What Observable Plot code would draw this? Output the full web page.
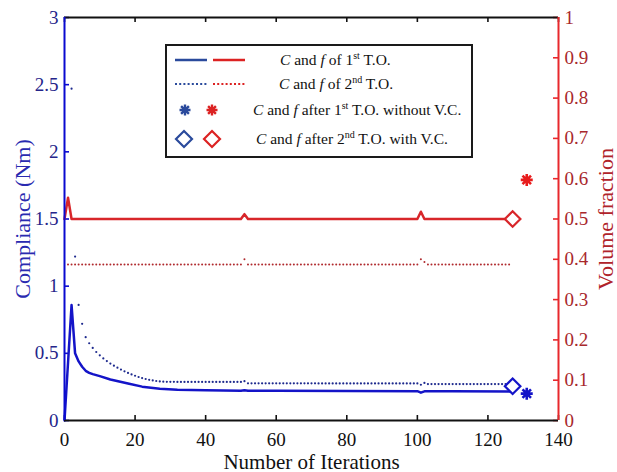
<!DOCTYPE html>
<html>
<head>
<meta charset="utf-8">
<script src="https://cdn.jsdelivr.net/npm/d3@7"></script>
<script src="https://cdn.jsdelivr.net/npm/@observablehq/plot@0.6"></script>
<style>
  html, body { margin: 0; padding: 0; background: #fff; }
  #wrap { position: relative; width: 617px; height: 472px; font-family: 'Liberation Serif', 'Times New Roman', serif; }
  #wrap svg text { font-family: 'Liberation Serif', 'Times New Roman', serif; }
  .legend { position: absolute; left: 165px; top: 44px; width: 304px; height: 110px; border: 2px solid #1a1a1a; background: #fff; }
  .lt { position: absolute; font-size: 15.5px; color: #111; white-space: nowrap; transform: translateY(-50%); line-height: 1; font-family: 'Liberation Serif', 'Times New Roman', serif; }
  .lt sup { font-size: 10px; vertical-align: 6px; line-height: 0; }
</style>
</head>
<body>
<div id="wrap"></div>
<script>
// ---- axes ----
const xDomain = [0, 140];
const xTicks = [0, 20, 40, 60, 80, 100, 120, 140];
const cDomain = [0, 3];
const cTicks = [0, 0.5, 1, 1.5, 2, 2.5, 3];
const fTicks = [0, 0.1, 0.2, 0.3, 0.4, 0.5, 0.6, 0.7, 0.8, 0.9, 1];
const fToC = 3; // right axis (0..1) shares the left axis (0..3)

// ---- compliance of 1st T.O. (solid blue) ----
const c1Iter = [0, 1, 2, 3, 4, 5, 6, 7, 8, 10, 13, 18, 22, 27, 32, 40, 50, 51, 52, 60, 80, 100, 101, 102, 110, 127];
const c1Val  = [0, 0.43, 0.86, 0.5, 0.44, 0.4, 0.37, 0.355, 0.345, 0.33, 0.305, 0.275, 0.252, 0.237, 0.229, 0.225, 0.222, 0.226, 0.222, 0.221, 0.219, 0.218, 0.207, 0.217, 0.217, 0.216];

// ---- volume fraction of 1st T.O. (solid red) ----
const f1Iter = [0, 1, 2, 50, 51, 52, 100, 101, 102, 127];
const f1Val  = [0.5, 0.553, 0.5, 0.5, 0.512, 0.5, 0.5, 0.518, 0.5, 0.5];

// ---- compliance of 2nd T.O. (blue dots, one per iteration, from iteration 2) ----
const c2Start = 2;
const c2Val = [
  2.47, 1.22, 0.86, 0.72, 0.62, 0.575, 0.54, 0.51, 0.485, 0.462,
  0.442, 0.424, 0.408, 0.393, 0.379, 0.366, 0.354, 0.343, 0.333, 0.324,
  0.316, 0.309, 0.303, 0.298, 0.294, 0.291, 0.289, 0.288, 0.288, 0.288,
  0.287, 0.287, 0.287, 0.287, 0.287, 0.287, 0.287, 0.287, 0.287, 0.287,
  0.287, 0.287, 0.287, 0.287, 0.287, 0.287, 0.287, 0.287, 0.287, 0.293,
  0.277, 0.277, 0.277, 0.277, 0.277, 0.277, 0.277, 0.277, 0.277, 0.277,
  0.277, 0.277, 0.277, 0.277, 0.277, 0.277, 0.277, 0.277, 0.277, 0.277,
  0.276, 0.276, 0.276, 0.276, 0.276, 0.276, 0.276, 0.276, 0.276, 0.276,
  0.276, 0.276, 0.276, 0.276, 0.276, 0.276, 0.276, 0.276, 0.276, 0.276,
  0.276, 0.276, 0.276, 0.276, 0.276, 0.276, 0.276, 0.276, 0.276, 0.266,
  0.28, 0.271, 0.271, 0.271, 0.271, 0.271, 0.271, 0.271, 0.271, 0.271,
  0.271, 0.271, 0.271, 0.271, 0.271, 0.271, 0.271, 0.271, 0.271, 0.271,
  0.271, 0.271, 0.271, 0.271
];

// ---- volume fraction of 2nd T.O. (red dots, one per iteration, from iteration 1) ----
const f2Start = 1;
const f2Val = [
  0.387, 0.387, 0.387, 0.387, 0.387, 0.387, 0.387, 0.387, 0.387, 0.387,
  0.387, 0.387, 0.387, 0.387, 0.387, 0.387, 0.387, 0.387, 0.387, 0.387,
  0.387, 0.387, 0.387, 0.387, 0.387, 0.387, 0.387, 0.387, 0.387, 0.387,
  0.387, 0.387, 0.387, 0.387, 0.387, 0.387, 0.387, 0.387, 0.387, 0.387,
  0.387, 0.387, 0.387, 0.387, 0.387, 0.387, 0.387, 0.387, 0.387, 0.387,
  0.4, 0.387, 0.387, 0.387, 0.387, 0.387, 0.387, 0.387, 0.387, 0.387,
  0.387, 0.387, 0.387, 0.387, 0.387, 0.387, 0.387, 0.387, 0.387, 0.387,
  0.387, 0.387, 0.387, 0.387, 0.387, 0.387, 0.387, 0.387, 0.387, 0.387,
  0.387, 0.387, 0.387, 0.387, 0.387, 0.387, 0.387, 0.387, 0.387, 0.387,
  0.387, 0.387, 0.387, 0.387, 0.387, 0.387, 0.387, 0.387, 0.387, 0.387,
  0.4, 0.393, 0.387, 0.387, 0.387, 0.387, 0.387, 0.387, 0.387, 0.387,
  0.387, 0.387, 0.387, 0.387, 0.387, 0.387, 0.387, 0.387, 0.387, 0.387,
  0.387, 0.387, 0.387, 0.387, 0.387, 0.387
];

// ---- final markers ----
const starIter = [131];      // after 1st T.O. without V.C.
const starC = [0.2];
const starF = [0.597];
const diamondIter = [127];   // after 2nd T.O. with V.C.
const diamondC = [0.255];
const diamondF = [0.5];

// ---- build tables ----
const c1 = c1Iter.map((x, i) => ({x, y: c1Val[i]}));
const f1 = f1Iter.map((x, i) => ({x, y: f1Val[i] * fToC}));
const c2 = c2Val.map((v, i) => ({x: c2Start + i, y: v}));
const f2 = f2Val.map((v, i) => ({x: f2Start + i, y: v * fToC}));
const starsC = starIter.map((x, i) => ({x, y: starC[i]}));
const starsF = starIter.map((x, i) => ({x, y: starF[i] * fToC}));
const diamsC = diamondIter.map((x, i) => ({x, y: diamondC[i]}));
const diamsF = diamondIter.map((x, i) => ({x, y: diamondF[i] * fToC}));
const fTickPos = fTicks.map(f => f * fToC);

// 8-spoke asterisk like MATLAB '*'
const asterisk8 = {
  draw(ctx, size) {
    const r = Math.sqrt(size / Math.PI);
    for (let k = 0; k < 4; k++) {
      const a = k * Math.PI / 4;
      ctx.moveTo(r * Math.cos(a), r * Math.sin(a));
      ctx.lineTo(-r * Math.cos(a), -r * Math.sin(a));
    }
  }
};

const W = 617, H = 472, mL = 64, mR = 59, mT = 17, mB = 52;
const frameW = W - mL - mR, frameH = H - mT - mB, tickLen = 5;

const BLUE = "#1414c8", RED = "#d8262a";
const SERIF = "'Liberation Serif', 'Times New Roman', serif";

const chart = Plot.plot({
  width: W, height: H,
  marginLeft: mL, marginRight: mR, marginTop: mT, marginBottom: mB,
  x: {domain: xDomain},
  y: {domain: cDomain},
  style: {fontFamily: SERIF, background: "white", overflow: "visible"},
  marks: [
    // tick labels
    Plot.axisX({ticks: xTicks, tickSize: 0, tickPadding: 12, fontSize: 19, fill: "#111", label: null, tickFormat: d => String(d)}),
    Plot.axisY({ticks: cTicks, anchor: "left", tickSize: 0, tickPadding: 6, fontSize: 19, fill: "#25258a", label: null, tickFormat: d => String(d)}),
    Plot.axisY({ticks: fTickPos, anchor: "right", tickSize: 0, tickPadding: 6, fontSize: 19, fill: "#a8282c", label: null,
      tickFormat: d => String(+(d / fToC).toFixed(1))}),
    // inward ticks
    Plot.tickX(xTicks, {x: d => d, insetTop: frameH - tickLen, stroke: "#111", strokeWidth: 1.6}),
    Plot.tickX(xTicks, {x: d => d, insetBottom: frameH - tickLen, stroke: "#111", strokeWidth: 1.6}),
    Plot.tickY(cTicks, {y: d => d, insetRight: frameW - tickLen, stroke: "#0a0ad0", strokeWidth: 1.6}),
    Plot.tickY(fTickPos, {y: d => d, insetLeft: frameW - tickLen, stroke: "#e8282c", strokeWidth: 1.6}),
    // data
    Plot.dot(f2, {x: "x", y: "y", r: 1, fill: "#b02a2e", stroke: null}),
    Plot.dot(c2, {x: "x", y: "y", r: 1.1, fill: "#1e2a8e", stroke: null}),
    Plot.line(f1, {x: "x", y: "y", stroke: RED, strokeWidth: 2.5}),
    Plot.line(c1, {x: "x", y: "y", stroke: BLUE, strokeWidth: 2.5}),
    Plot.dot(diamsF, {x: "x", y: "y", symbol: "diamond2", r: 7, stroke: RED, fill: "white", strokeWidth: 2.2}),
    Plot.dot(diamsC, {x: "x", y: "y", symbol: "diamond2", r: 7, stroke: BLUE, fill: "white", strokeWidth: 2.2}),
    Plot.dot(starsF, {x: "x", y: "y", symbol: asterisk8, r: 6, stroke: "#e81c1c", fill: "none", strokeWidth: 2.6}),
    Plot.dot(starsC, {x: "x", y: "y", symbol: asterisk8, r: 6, stroke: BLUE, fill: "none", strokeWidth: 2.6}),
    // frame
    Plot.ruleY([cDomain[0]], {stroke: "#111", strokeWidth: 2}),
    Plot.ruleY([cDomain[1]], {stroke: "#111", strokeWidth: 2}),
    Plot.ruleX([xDomain[0]], {stroke: "#0a0ad0", strokeWidth: 2}),
    Plot.ruleX([xDomain[1]], {stroke: "#e8282c", strokeWidth: 2}),
    // axis titles
    Plot.text(["Compliance (Nm)"], {text: d => d, frameAnchor: "left", rotate: -90, dx: -42, dy: 0,
      textAnchor: "middle", lineAnchor: "middle", fontSize: 22, fill: "#2a2ab0"}),
    Plot.text(["Volume fraction"], {text: d => d, frameAnchor: "right", rotate: -90, dx: 47,
      textAnchor: "middle", lineAnchor: "middle", fontSize: 22, fill: "#b0232a"}),
    Plot.text(["Number of Iterations"], {text: d => d, frameAnchor: "bottom", dy: 48,
      textAnchor: "middle", lineAnchor: "bottom", fontSize: 21, fill: "#111"})
  ]
});

const wrap = document.getElementById("wrap");
wrap.appendChild(chart);

// ---- legend ----
const legendRows = [
  {y: 60, tx: 280, html: '<i>C</i> and <i>f</i> of 1<sup>st</sup> T.O.'},
  {y: 84, tx: 279, html: '<i>C</i> and <i>f</i> of 2<sup>nd</sup> T.O.'},
  {y: 110, tx: 253, html: '<i>C</i> and <i>f</i> after 1<sup>st</sup> T.O. without V.C.'},
  {y: 139, tx: 256, html: '<i>C</i> and <i>f</i> after 2<sup>nd</sup> T.O. with V.C.'}
];
const LB = "#2a4a9c", LR = "#dc2222";
const legendSymbols = [
  `<line x1="10" x2="42" y1="12" y2="12" stroke="${LB}" stroke-width="2.5"/><line x1="48" x2="80" y1="12" y2="12" stroke="${LR}" stroke-width="2.5"/>`,
  `<line x1="10" x2="42" y1="12" y2="12" stroke="${LB}" stroke-width="2" stroke-dasharray="2 2.2"/><line x1="48" x2="80" y1="12" y2="12" stroke="${LR}" stroke-width="2" stroke-dasharray="2 2.2"/>`,
  `<g stroke="${LB}" stroke-width="2.4" transform="translate(20,12)"><path d="M-5.5,0H5.5M0,-5.5V5.5M-3.9,-3.9L3.9,3.9M-3.9,3.9L3.9,-3.9"/></g><g stroke="${LR}" stroke-width="2.4" transform="translate(47,12)"><path d="M-5.5,0H5.5M0,-5.5V5.5M-3.9,-3.9L3.9,3.9M-3.9,3.9L3.9,-3.9"/></g>`,
  `<path d="M19,4 L27,12 L19,20 L11,12 Z" fill="none" stroke="${LB}" stroke-width="2.2"/><path d="M47,4 L55,12 L47,20 L39,12 Z" fill="none" stroke="${LR}" stroke-width="2.2"/>`
];
const legend = document.createElement("div");
legend.className = "legend";
wrap.appendChild(legend);
legendRows.forEach((r, i) => {
  const s = document.createElementNS("http://www.w3.org/2000/svg", "svg");
  s.setAttribute("width", 90); s.setAttribute("height", 24);
  s.style.position = "absolute";
  s.style.left = "165px"; s.style.top = (r.y - 12) + "px";
  s.innerHTML = legendSymbols[i];
  wrap.appendChild(s);
  const t = document.createElement("div");
  t.className = "lt";
  t.style.left = r.tx + "px"; t.style.top = r.y + "px";
  t.innerHTML = r.html;
  wrap.appendChild(t);
});
</script>
</body>
</html>
